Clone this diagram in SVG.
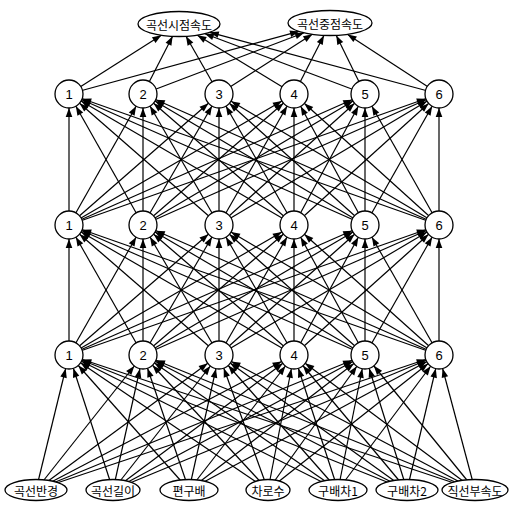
<svg xmlns="http://www.w3.org/2000/svg" width="510" height="506" viewBox="0 0 510 506">
<style>
.e{stroke:#000;stroke-width:1.2;fill:none;marker-end:url(#ah)}
.o{stroke:#000;stroke-width:1.2;fill:none;marker-end:url(#ao)}
.n{fill:#fff;stroke:#000;stroke-width:1.3}
.t{font-family:"Liberation Sans",Arial,sans-serif;font-size:13px;text-anchor:middle;dominant-baseline:central;fill:#000}
.k{font-family:"Noto Sans CJK KR","Noto Sans",sans-serif;font-size:12px;text-anchor:middle;dominant-baseline:central;fill:#000}
</style>
<defs>
<marker id="ah" markerUnits="userSpaceOnUse" markerWidth="30" markerHeight="10" refX="14" refY="0" orient="auto" overflow="visible"><path d="M0,0L-9,-3.3L-9,3.3Z" fill="#000"/></marker>
<marker id="ao" markerUnits="userSpaceOnUse" markerWidth="10" markerHeight="10" refX="0" refY="0" orient="auto" overflow="visible"><path d="M0,0L-9,-3.3L-9,3.3Z" fill="#000"/></marker>
</defs>
<g id="connectors">
<path class="e" d="M36,490L69,355"/><path class="e" d="M36,490L143,355"/><path class="e" d="M36,490L219,355"/><path class="e" d="M36,490L294,355"/><path class="e" d="M36,490L365,355"/><path class="e" d="M36,490L439,355"/>
<path class="e" d="M113,490L69,355"/><path class="e" d="M113,490L143,355"/><path class="e" d="M113,490L219,355"/><path class="e" d="M113,490L294,355"/><path class="e" d="M113,490L365,355"/><path class="e" d="M113,490L439,355"/>
<path class="e" d="M189,490L69,355"/><path class="e" d="M189,490L143,355"/><path class="e" d="M189,490L219,355"/><path class="e" d="M189,490L294,355"/><path class="e" d="M189,490L365,355"/><path class="e" d="M189,490L439,355"/>
<path class="e" d="M268,490L69,355"/><path class="e" d="M268,490L143,355"/><path class="e" d="M268,490L219,355"/><path class="e" d="M268,490L294,355"/><path class="e" d="M268,490L365,355"/><path class="e" d="M268,490L439,355"/>
<path class="e" d="M338,490L69,355"/><path class="e" d="M338,490L143,355"/><path class="e" d="M338,490L219,355"/><path class="e" d="M338,490L294,355"/><path class="e" d="M338,490L365,355"/><path class="e" d="M338,490L439,355"/>
<path class="e" d="M407,490L69,355"/><path class="e" d="M407,490L143,355"/><path class="e" d="M407,490L219,355"/><path class="e" d="M407,490L294,355"/><path class="e" d="M407,490L365,355"/><path class="e" d="M407,490L439,355"/>
<path class="e" d="M475,490L69,355"/><path class="e" d="M475,490L143,355"/><path class="e" d="M475,490L219,355"/><path class="e" d="M475,490L294,355"/><path class="e" d="M475,490L365,355"/><path class="e" d="M475,490L439,355"/>
<path class="e" d="M69,355L69,225"/><path class="e" d="M69,355L143,225"/><path class="e" d="M69,355L219,225"/><path class="e" d="M69,355L294,225"/><path class="e" d="M69,355L365,225"/><path class="e" d="M69,355L439,225"/>
<path class="e" d="M143,355L69,225"/><path class="e" d="M143,355L143,225"/><path class="e" d="M143,355L219,225"/><path class="e" d="M143,355L294,225"/><path class="e" d="M143,355L365,225"/><path class="e" d="M143,355L439,225"/>
<path class="e" d="M219,355L69,225"/><path class="e" d="M219,355L143,225"/><path class="e" d="M219,355L219,225"/><path class="e" d="M219,355L294,225"/><path class="e" d="M219,355L365,225"/><path class="e" d="M219,355L439,225"/>
<path class="e" d="M294,355L69,225"/><path class="e" d="M294,355L143,225"/><path class="e" d="M294,355L219,225"/><path class="e" d="M294,355L294,225"/><path class="e" d="M294,355L365,225"/><path class="e" d="M294,355L439,225"/>
<path class="e" d="M365,355L69,225"/><path class="e" d="M365,355L143,225"/><path class="e" d="M365,355L219,225"/><path class="e" d="M365,355L294,225"/><path class="e" d="M365,355L365,225"/><path class="e" d="M365,355L439,225"/>
<path class="e" d="M439,355L69,225"/><path class="e" d="M439,355L143,225"/><path class="e" d="M439,355L219,225"/><path class="e" d="M439,355L294,225"/><path class="e" d="M439,355L365,225"/><path class="e" d="M439,355L439,225"/>
<path class="e" d="M69,225L69,94"/><path class="e" d="M69,225L143,94"/><path class="e" d="M69,225L219,94"/><path class="e" d="M69,225L294,94"/><path class="e" d="M69,225L365,94"/><path class="e" d="M69,225L439,94"/>
<path class="e" d="M143,225L69,94"/><path class="e" d="M143,225L143,94"/><path class="e" d="M143,225L219,94"/><path class="e" d="M143,225L294,94"/><path class="e" d="M143,225L365,94"/><path class="e" d="M143,225L439,94"/>
<path class="e" d="M219,225L69,94"/><path class="e" d="M219,225L143,94"/><path class="e" d="M219,225L219,94"/><path class="e" d="M219,225L294,94"/><path class="e" d="M219,225L365,94"/><path class="e" d="M219,225L439,94"/>
<path class="e" d="M294,225L69,94"/><path class="e" d="M294,225L143,94"/><path class="e" d="M294,225L219,94"/><path class="e" d="M294,225L294,94"/><path class="e" d="M294,225L365,94"/><path class="e" d="M294,225L439,94"/>
<path class="e" d="M365,225L69,94"/><path class="e" d="M365,225L143,94"/><path class="e" d="M365,225L219,94"/><path class="e" d="M365,225L294,94"/><path class="e" d="M365,225L365,94"/><path class="e" d="M365,225L439,94"/>
<path class="e" d="M439,225L69,94"/><path class="e" d="M439,225L143,94"/><path class="e" d="M439,225L219,94"/><path class="e" d="M439,225L294,94"/><path class="e" d="M439,225L365,94"/><path class="e" d="M439,225L439,94"/>
<path class="o" d="M69,94L161.3,35.3"/><path class="o" d="M143,94L172.6,36.3"/><path class="o" d="M219,94L186,36.3"/><path class="o" d="M294,94L197.4,35.2"/><path class="o" d="M365,94L204.9,33.7"/><path class="o" d="M439,94L209.8,32.3"/>
<path class="o" d="M69,94L299,31.4"/><path class="o" d="M143,94L304.1,32.8"/><path class="o" d="M219,94L312.3,34.3"/><path class="o" d="M294,94L323.9,35.4"/><path class="o" d="M365,94L336.3,35.4"/><path class="o" d="M439,94L347.6,34.4"/>
</g>
<g id="out1"><ellipse class="n" cx="179" cy="24" rx="41" ry="12.5"/><text class="k" x="179" y="24">곡선시점속도</text></g>
<g id="out2"><ellipse class="n" cx="330" cy="23" rx="42" ry="12.5"/><text class="k" x="330" y="23">곡선중점속도</text></g>
<g id="h3-1"><circle class="n" cx="69" cy="94" r="14"/><text class="t" x="69" y="94">1</text></g>
<g id="h3-2"><circle class="n" cx="143" cy="94" r="14"/><text class="t" x="143" y="94">2</text></g>
<g id="h3-3"><circle class="n" cx="219" cy="94" r="14"/><text class="t" x="219" y="94">3</text></g>
<g id="h3-4"><circle class="n" cx="294" cy="94" r="14"/><text class="t" x="294" y="94">4</text></g>
<g id="h3-5"><circle class="n" cx="365" cy="94" r="14"/><text class="t" x="365" y="94">5</text></g>
<g id="h3-6"><circle class="n" cx="439" cy="94" r="14"/><text class="t" x="439" y="94">6</text></g>
<g id="h2-1"><circle class="n" cx="69" cy="225" r="14"/><text class="t" x="69" y="225">1</text></g>
<g id="h2-2"><circle class="n" cx="143" cy="225" r="14"/><text class="t" x="143" y="225">2</text></g>
<g id="h2-3"><circle class="n" cx="219" cy="225" r="14"/><text class="t" x="219" y="225">3</text></g>
<g id="h2-4"><circle class="n" cx="294" cy="225" r="14"/><text class="t" x="294" y="225">4</text></g>
<g id="h2-5"><circle class="n" cx="365" cy="225" r="14"/><text class="t" x="365" y="225">5</text></g>
<g id="h2-6"><circle class="n" cx="439" cy="225" r="14"/><text class="t" x="439" y="225">6</text></g>
<g id="h1-1"><circle class="n" cx="69" cy="355" r="14"/><text class="t" x="69" y="355">1</text></g>
<g id="h1-2"><circle class="n" cx="143" cy="355" r="14"/><text class="t" x="143" y="355">2</text></g>
<g id="h1-3"><circle class="n" cx="219" cy="355" r="14"/><text class="t" x="219" y="355">3</text></g>
<g id="h1-4"><circle class="n" cx="294" cy="355" r="14"/><text class="t" x="294" y="355">4</text></g>
<g id="h1-5"><circle class="n" cx="365" cy="355" r="14"/><text class="t" x="365" y="355">5</text></g>
<g id="h1-6"><circle class="n" cx="439" cy="355" r="14"/><text class="t" x="439" y="355">6</text></g>
<g id="in1"><ellipse class="n" cx="36" cy="490" rx="31" ry="10.5"/><text class="k" x="36" y="490">곡선반경</text></g>
<g id="in2"><ellipse class="n" cx="113" cy="490" rx="27" ry="10.5"/><text class="k" x="113" y="490">곡선길이</text></g>
<g id="in3"><ellipse class="n" cx="189" cy="490" rx="29" ry="10.5"/><text class="k" x="189" y="490">편구배</text></g>
<g id="in4"><ellipse class="n" cx="268" cy="490" rx="22" ry="10.5"/><text class="k" x="268" y="490">차로수</text></g>
<g id="in5"><ellipse class="n" cx="338" cy="490" rx="29" ry="10.5"/><text class="k" x="338" y="490">구배차1</text></g>
<g id="in6"><ellipse class="n" cx="407" cy="490" rx="31" ry="10.5"/><text class="k" x="407" y="490">구배차2</text></g>
<g id="in7"><ellipse class="n" cx="475" cy="490" rx="33" ry="10.5"/><text class="k" x="475" y="490">직선부속도</text></g>
</svg>
